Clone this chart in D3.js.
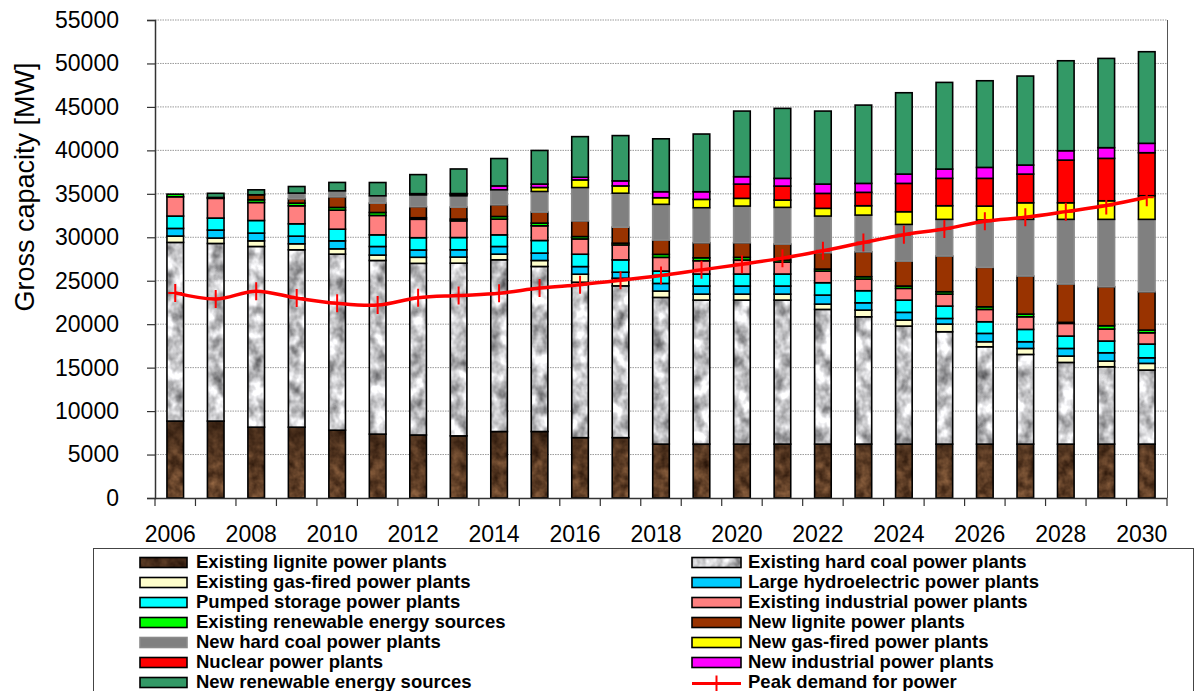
<!DOCTYPE html>
<html><head><meta charset="utf-8">
<script src="https://cdn.jsdelivr.net/npm/d3@7"></script>
<style>
html,body{margin:0;padding:0;background:#fff;}
svg{display:block;font-family:"Liberation Sans",Arial,sans-serif;}
</style></head>
<body>
<svg id="chart" width="1196" height="691"></svg>
<script>
const years = ["2006","2007","2008","2009","2010","2011","2012","2013","2014","2015","2016","2017","2018","2019","2020","2021","2022","2023","2024","2025","2026","2027","2028","2029","2030"];
const yTicks = [0,5000,10000,15000,20000,25000,30000,35000,40000,45000,50000,55000];
const xLabels = ["2006","2008","2010","2012","2014","2016","2018","2020","2022","2024","2026","2028","2030"];

const existingLignite   = [8850,8850,8150,8150,7800,7350,7250,7150,7650,7650,6950,6950,6200,6200,6200,6200,6200,6200,6200,6200,6200,6200,6200,6200,6200];
const existingHardCoal  = [20560,20440,20790,20410,20260,19980,19750,19870,19760,18990,17880,17460,16880,16570,16570,16570,15500,14650,13580,12930,11200,10320,9400,8900,8520];
const existingGas       = [730,620,650,690,610,620,700,700,650,690,920,880,730,690,690,690,610,770,690,880,580,690,730,650,770];
const largeHydro        = [880,920,890,880,920,990,840,840,880,850,880,690,880,930,930,930,1040,840,890,650,960,770,880,960,640];
const pumpedStorage     = [1420,1380,1450,1420,1340,1340,1410,1410,1340,1450,1420,1420,1420,1380,1380,1380,1420,1390,1410,1420,1340,1420,1420,1350,1580];
const existingIndustrial= [2220,2270,2070,2070,2190,2230,2120,1920,1810,1690,1760,1720,1580,1530,1610,1380,1340,1340,1350,1380,1420,1450,1460,1380,1300];
const existingRenewable = [300,100,310,310,310,340,180,200,300,310,270,200,340,340,310,230,230,270,270,270,300,310,120,380,310];
const newLignite        = [0,0,580,500,1220,1080,1270,1380,1350,1270,1800,1840,1650,1730,1680,1840,1880,2870,2870,4110,4540,4380,4410,4490,4410];
const newHardCoal       = [0,0,0,650,690,840,1350,1300,1720,2370,3840,3910,4110,4030,4220,4220,4220,4220,4220,4220,5440,6520,7440,7750,8330];
const newGas            = [0,0,0,0,0,0,0,130,0,460,880,840,760,960,890,840,890,1080,1460,1570,1610,1910,1910,2140,2720];
const nuclear           = [0,0,0,0,0,0,0,0,0,0,0,0,0,0,1640,1610,1720,1540,3260,3150,3190,3300,4910,4880,4950];
const newIndustrial     = [0,0,0,0,0,0,150,130,450,390,310,580,690,880,850,890,1070,1030,1070,1070,1260,1040,1080,1230,1080];
const newRenewable      = [0,480,570,760,970,1530,2190,2830,3150,3870,4670,5210,6090,6640,7550,8050,8400,9010,9360,9970,9970,10240,10350,10270,10540];
const peakDemand        = [23600,22900,23800,23000,22400,22200,23050,23300,23550,24150,24550,25050,25600,26250,26900,27600,28450,29400,30300,30950,31850,32300,32950,33650,34600];

const seriesNames = ["Existing lignite power plants","Existing hard coal power plants","Existing gas-fired power plants","Large hydroelectric power plants","Pumped storage power plants","Existing industrial power plants","Existing renewable energy sources","New lignite power plants","New hard coal power plants","New gas-fired power plants","Nuclear power plants","New industrial power plants","New renewable energy sources"];
const seriesValues = [existingLignite,existingHardCoal,existingGas,largeHydro,pumpedStorage,existingIndustrial,existingRenewable,newLignite,newHardCoal,newGas,nuclear,newIndustrial,newRenewable];
const seriesFills = ["url(#pLig)","url(#pHC)","#FFFFCC","#00CCFF","#00FFFF","#FF8080","#00FF00","#993300","#808080","#FFFF00","#FF0000","#FF00FF","#339966"];
const seriesStrokes = ["#000","#000","#000","#000","#000","#000","#000","#000","#8a8a8a","#000","#000","#000","#000"];
const legendFills = ["url(#pLigL)","url(#pHC)","#FFFFCC","#00CCFF","#00FFFF","#FF8080","#00FF00","#993300","#808080","#FFFF00","#FF0000","#FF00FF","#339966"];
const demandName = "Peak demand for power";

const svg = d3.select("#chart");
const defs = svg.append("defs");

// textures
function noiseFilter(id, type, freq, oct, seed, matrix){
  const f = defs.append("filter").attr("id",id).attr("filterUnits","userSpaceOnUse")
    .attr("color-interpolation-filters","sRGB")
    .attr("x",0).attr("y",0).attr("width",1196).attr("height",691);
  f.append("feTurbulence").attr("type",type).attr("baseFrequency",freq).attr("numOctaves",oct).attr("seed",seed).attr("result","t");
  f.append("feColorMatrix").attr("in","t").attr("type","matrix").attr("values",matrix);
}
noiseFilter("fHC","fractalNoise","0.08 0.065",3,7,"-1.1 0 0 0 1.33  -1.1 0 0 0 1.33  -1.1 0 0 0 1.34  0 0 0 0 1");
noiseFilter("fLig","fractalNoise","0.1",3,3,"0.55 0 0 0 0.12  0.42 0 0 0 0.05  0.3 0 0 0 0.01  0 0 0 0 1");

const lg = defs.append("linearGradient").attr("id","gLig").attr("gradientUnits","userSpaceOnUse")
  .attr("x1",0).attr("x2",0).attr("y1",420).attr("y2",498);
lg.append("stop").attr("offset",0).attr("stop-color","#1a0c04").attr("stop-opacity",0.55);
lg.append("stop").attr("offset",0.5).attr("stop-color","#1a0c04").attr("stop-opacity",0.15);
lg.append("stop").attr("offset",1).attr("stop-color","#1a0c04").attr("stop-opacity",0);

const pHC = defs.append("pattern").attr("id","pHC").attr("patternUnits","userSpaceOnUse").attr("width",1196).attr("height",691);
pHC.append("rect").attr("width",1196).attr("height",691).attr("filter","url(#fHC)");
const pLig = defs.append("pattern").attr("id","pLig").attr("patternUnits","userSpaceOnUse").attr("width",1196).attr("height",691);
pLig.append("rect").attr("width",1196).attr("height",691).attr("filter","url(#fLig)");
pLig.append("rect").attr("width",1196).attr("height",691).attr("fill","url(#gLig)");
const pLigL = defs.append("pattern").attr("id","pLigL").attr("patternUnits","userSpaceOnUse").attr("width",1196).attr("height",691);
pLigL.append("rect").attr("width",1196).attr("height",691).attr("filter","url(#fLig)");
pLigL.append("rect").attr("width",1196).attr("height",691).attr("fill","#1a0c04").attr("fill-opacity",0.45);

// scales
const x = d3.scaleBand().domain(years).range([155,1167]).paddingInner(0.59).paddingOuter(0.295);
const y = d3.scaleLinear().domain([0,55000]).range([498,20]);

// gridlines
svg.append("g").selectAll("line").data(yTicks.filter(d=>d>0)).join("line")
  .attr("x1",155).attr("x2",1167).attr("y1",d=>y(d)).attr("y2",d=>y(d))
  .attr("stroke","#9a9a9a").attr("stroke-width",1).attr("stroke-dasharray","1.5,1");
// right border
svg.append("line").attr("x1",1167.5).attr("x2",1167.5).attr("y1",y(55000)).attr("y2",y(0))
  .attr("stroke","#555").attr("stroke-width",1);

// stacked bars
const table = years.map((yr,i)=>{ const o={year:yr}; seriesNames.forEach((n,k)=>o[n]=seriesValues[k][i]); return o; });
const stack = d3.stack().keys(seriesNames)(table);
const gBars = svg.append("g");
stack.forEach((layer,k)=>{
  gBars.append("g").selectAll("rect").data(layer.filter(d=>d[1]-d[0]>0)).join("rect")
    .attr("x",d=>x(d.data.year)).attr("width",x.bandwidth())
    .attr("y",d=>y(d[1])).attr("height",d=>y(d[0])-y(d[1]))
    .attr("fill",seriesFills[k]).attr("stroke",seriesStrokes[k]).attr("stroke-width",1.6);
});

// axes
const yAxis = d3.axisLeft(y).tickValues(yTicks).tickSize(8).tickPadding(28).tickFormat(d3.format("d"));
const gy = svg.append("g").attr("transform","translate(155,0)").call(yAxis);
gy.select(".domain").attr("stroke","#333").attr("stroke-width",1.5);
gy.selectAll(".tick line").attr("stroke","#333").attr("stroke-width",1.2);
gy.selectAll(".tick text").attr("font-size",23).attr("fill","#000").attr("font-family","Liberation Sans, Arial, sans-serif");

const gx = svg.append("g");
gx.append("line").attr("x1",155).attr("x2",1167).attr("y1",498.5).attr("y2",498.5).attr("stroke","#333").attr("stroke-width",1.5);
const gap = (x.step()-x.bandwidth())/2;
const bounds = years.map(d=>x(d)-gap).concat([x(years[years.length-1])+x.bandwidth()+gap]);
gx.selectAll("line.tk").data(bounds).join("line").attr("class","tk")
  .attr("x1",d=>d).attr("x2",d=>d).attr("y1",498).attr("y2",506).attr("stroke","#333").attr("stroke-width",1.2);
gx.selectAll("text").data(xLabels).join("text")
  .attr("x",d=>x(d)+x.bandwidth()/2-5).attr("y",542)
  .attr("text-anchor","middle").attr("font-size",23).text(d=>d);

// y label
svg.append("text").attr("transform","translate(25,187) rotate(-90)")
  .attr("text-anchor","middle").attr("dominant-baseline","central").attr("font-size",27).text("Gross capacity [MW]");

// demand line
const cx = d=>x(d)+x.bandwidth()/2;
const line = d3.line().x((d,i)=>cx(years[i])).y(d=>y(d)).curve(d3.curveCatmullRom.alpha(0.5));
svg.append("path").datum(peakDemand).attr("d",line).attr("fill","none").attr("stroke","#FF0000").attr("stroke-width",3.5);
svg.append("g").selectAll("path").data(peakDemand).join("path")
  .attr("transform",(d,i)=>`translate(${cx(years[i])},${y(d)})`)
  .attr("d","M-7,0H7M0,-9V9").attr("stroke","#FF0000").attr("stroke-width",2).attr("fill","none");

// legend
svg.append("rect").attr("x",93.5).attr("y",548.5).attr("width",1100).attr("height",160)
  .attr("fill","#fff").attr("stroke","#444").attr("stroke-width",1);
const legendItems = seriesNames.map((n,k)=>({name:n,fill:legendFills[k],stroke:seriesStrokes[k]==="#8a8a8a"?"#8a8a8a":"#000",k}));
legendItems.push({name:demandName,line:true,k:13});
const colX = [140,692], colT=[196,748];
const gl = svg.append("g");
legendItems.forEach(it=>{
  const col = it.k%2, row = Math.floor(it.k/2);
  const top = 557.5 + row*20;
  const g = gl.append("g");
  if(it.line){
    g.append("line").attr("x1",colX[col]).attr("x2",colX[col]+49).attr("y1",top+6).attr("y2",top+6).attr("stroke","#FF0000").attr("stroke-width",3);
    g.append("path").attr("transform",`translate(${colX[col]+24.5},${top+6})`).attr("d","M-6,0H6M0,-8V8").attr("stroke","#FF0000").attr("stroke-width",2);
  } else {
    g.append("rect").attr("x",colX[col]).attr("y",top).attr("width",col?49:47).attr("height",10)
      .attr("fill",it.fill).attr("stroke",it.stroke).attr("stroke-width",1.6);
  }
  g.append("text").attr("x",colT[col]).attr("y",top+10).attr("font-size",18.5).attr("font-weight","bold").text(it.name);
});
</script>
</body></html>
